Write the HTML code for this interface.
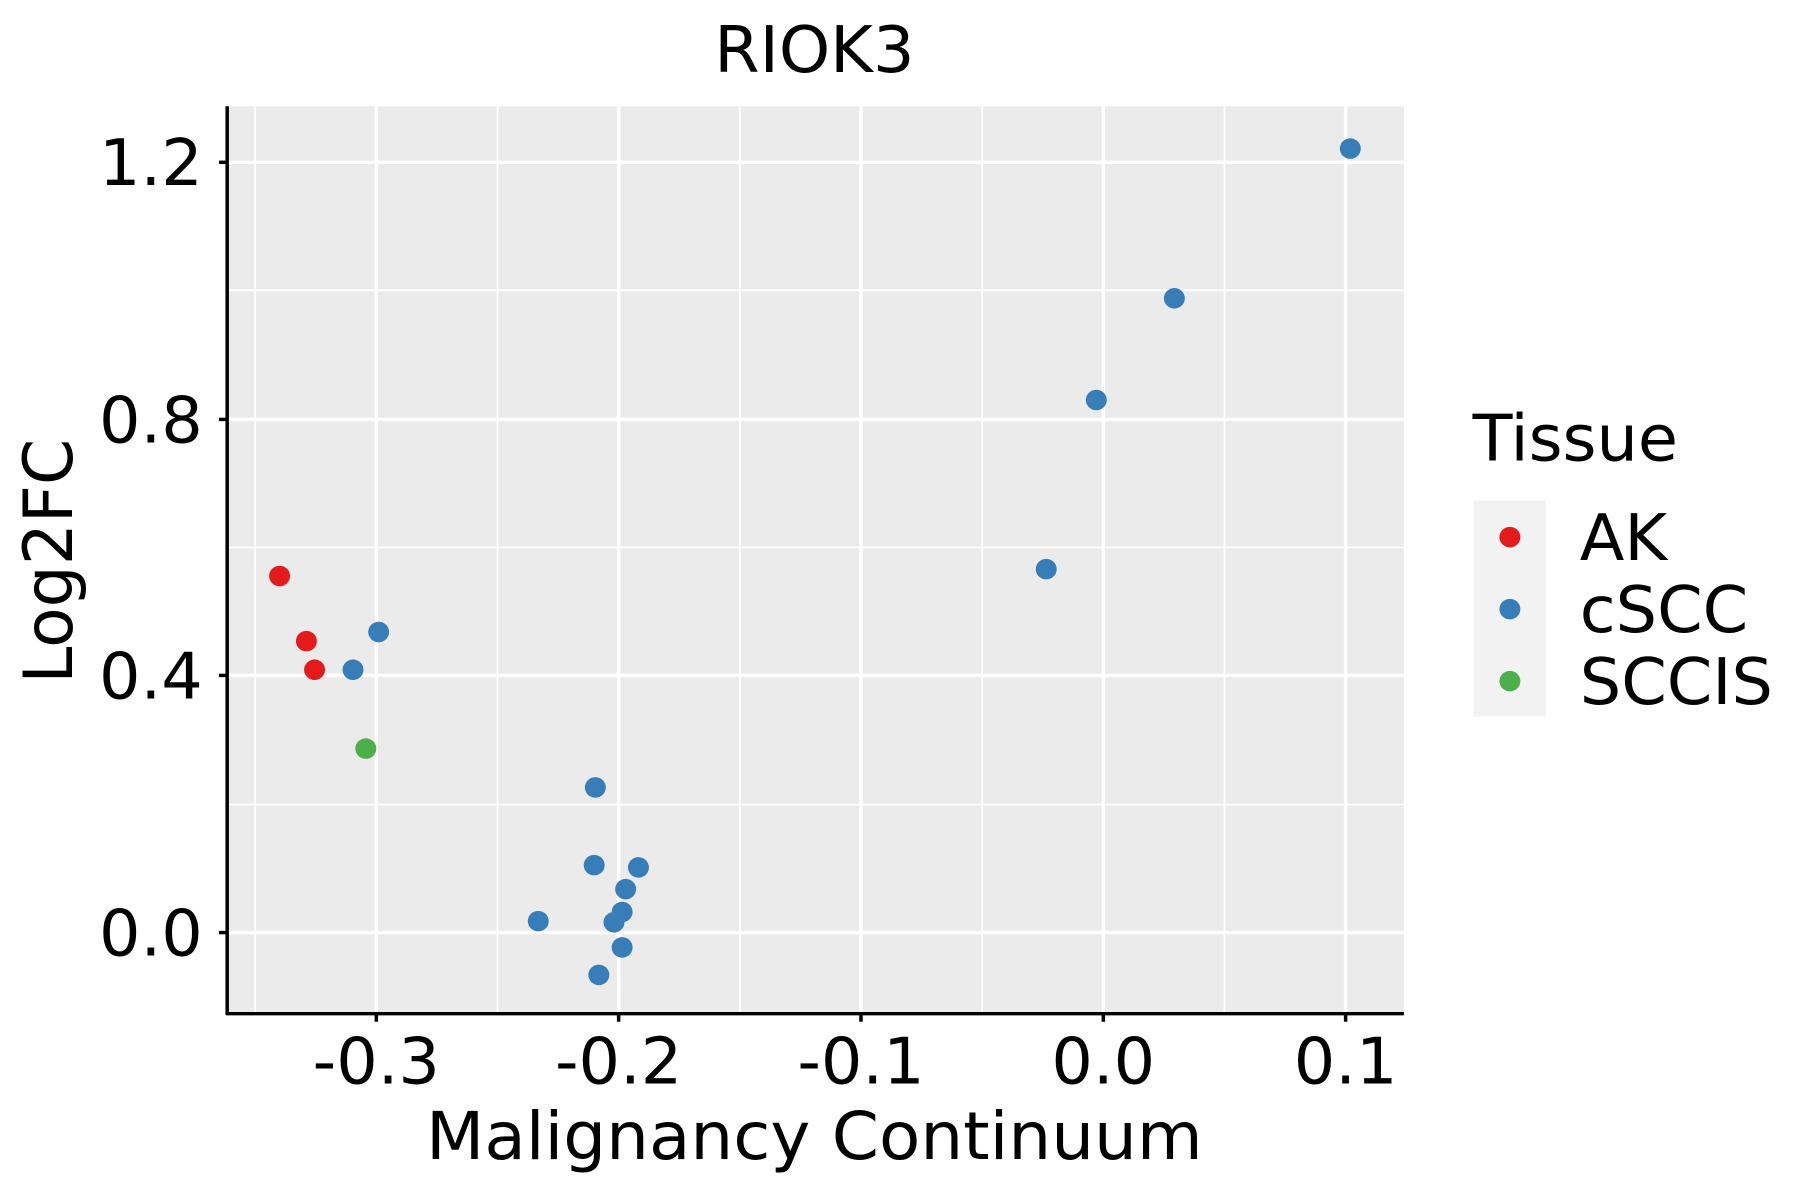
<!DOCTYPE html>
<html><head><style>html,body{margin:0;padding:0;background:#fff}svg{display:block}</style></head>
<body>
<svg width="1800" height="1200" viewBox="0 0 1545 1050" preserveAspectRatio="none" xmlns="http://www.w3.org/2000/svg" font-family="'DejaVu Sans', 'Liberation Sans', sans-serif">
<rect x="195" y="93" width="1010" height="794" fill="#ebebeb"/>
<g stroke="#fff" stroke-width="1.5">
<line x1="219" y1="93" x2="219" y2="887"/><line x1="427" y1="93" x2="427" y2="887"/><line x1="635" y1="93" x2="635" y2="887"/><line x1="843" y1="93" x2="843" y2="887"/><line x1="1051" y1="93" x2="1051" y2="887"/>
<line x1="195" y1="254" x2="1205" y2="254"/><line x1="195" y1="479" x2="1205" y2="479"/><line x1="195" y1="704" x2="1205" y2="704"/>
</g>
<g stroke="#fff" stroke-width="3">
<line x1="323" y1="93" x2="323" y2="887"/><line x1="531" y1="93" x2="531" y2="887"/><line x1="739" y1="93" x2="739" y2="887"/><line x1="947" y1="93" x2="947" y2="887"/><line x1="1155" y1="93" x2="1155" y2="887"/>
<line x1="195" y1="142" x2="1205" y2="142"/><line x1="195" y1="367" x2="1205" y2="367"/><line x1="195" y1="591" x2="1205" y2="591"/><line x1="195" y1="816" x2="1205" y2="816"/>
</g>
<g stroke="#000" stroke-width="3">
<line x1="195" y1="93" x2="195" y2="888"/><line x1="194" y1="887" x2="1205" y2="887"/>
<line x1="188" y1="142" x2="195" y2="142"/><line x1="188" y1="367" x2="195" y2="367"/><line x1="188" y1="591" x2="195" y2="591"/><line x1="188" y1="816" x2="195" y2="816"/>
<line x1="323" y1="887" x2="323" y2="894"/><line x1="531" y1="887" x2="531" y2="894"/><line x1="739" y1="887" x2="739" y2="894"/><line x1="947" y1="887" x2="947" y2="894"/><line x1="1155" y1="887" x2="1155" y2="894"/>
</g>
<g font-size="56" fill="#000" text-anchor="end">
<text x="174" y="162">1.2</text><text x="174" y="387">0.8</text><text x="174" y="611">0.4</text><text x="174" y="836">0.0</text>
</g>
<g font-size="56" fill="#000" text-anchor="middle">
<text x="323" y="948">-0.3</text><text x="531" y="948">-0.2</text><text x="739" y="948">-0.1</text><text x="947" y="948">0.0</text><text x="1155" y="948">0.1</text>
<text x="699" y="63">RIOK3</text>
<text x="699" y="1014" font-size="58">Malignancy Continuum</text>
<text transform="translate(62,491) rotate(-90)" font-size="58">Log2FC</text>
</g>
<g fill="#e41a1c"><circle cx="240" cy="504" r="9"/><circle cx="263" cy="561" r="9"/><circle cx="270" cy="586" r="9"/></g>
<g fill="#377eb8">
<circle cx="1159" cy="130" r="9"/><circle cx="1008" cy="261" r="9"/><circle cx="941" cy="350" r="9"/><circle cx="898" cy="498" r="9"/><circle cx="325" cy="553" r="9"/><circle cx="303" cy="586" r="9"/><circle cx="511" cy="689" r="9"/><circle cx="510" cy="757" r="9"/><circle cx="548" cy="759" r="9"/><circle cx="537" cy="778" r="9"/><circle cx="534" cy="798" r="9"/><circle cx="527" cy="807" r="9"/><circle cx="462" cy="806" r="9"/><circle cx="534" cy="829" r="9"/><circle cx="514" cy="853" r="9"/>
</g>
<circle cx="314" cy="655" r="9" fill="#4daf4a"/>
<text x="1264" y="403" font-size="56">Tissue</text>
<rect x="1265" y="438" width="62" height="189" fill="#f2f2f2"/>
<circle cx="1296" cy="470" r="9" fill="#e41a1c"/><circle cx="1296" cy="533" r="9" fill="#377eb8"/><circle cx="1296" cy="596" r="9" fill="#4daf4a"/>
<g font-size="56"><text x="1356" y="490">AK</text><text x="1356" y="553">cSCC</text><text x="1356" y="616">SCCIS</text></g>
</svg>
</body></html>
